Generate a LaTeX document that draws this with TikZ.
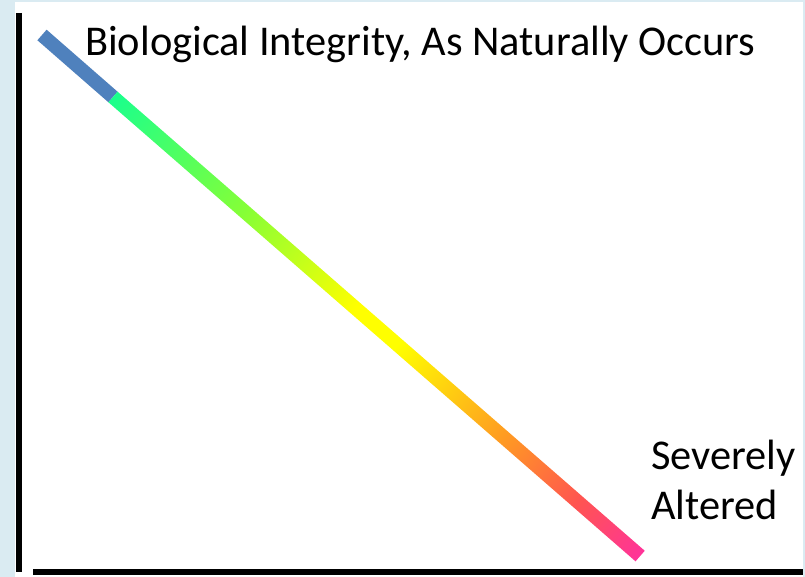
\documentclass[tikz,border=0pt]{standalone}
\usepackage{fontspec}
\setmainfont{Carlito}
\usetikzlibrary{calc}

\definecolor{slidebg}{HTML}{DAEBF2}
\definecolor{natblue}{HTML}{4F81BD}
\definecolor{rampgreen}{HTML}{1AFF8C}
\definecolor{ramplime}{HTML}{86FF36}
\definecolor{rampyellow}{HTML}{FFFF00}
\definecolor{ramporange}{HTML}{FF9B22}
\definecolor{rampred}{HTML}{FF5550}
\definecolor{ramppink}{HTML}{FF3399}

% colour ramp along the line, green at the top end
\pgfdeclarehorizontalshading{integrity}{100bp}{%
  color(0bp)=(rampgreen); color(25bp)=(rampgreen);
  color(37.5bp)=(ramplime); color(48bp)=(rampyellow);
  color(52bp)=(rampyellow);
  color(62bp)=(ramporange); color(69bp)=(rampred);
  color(75bp)=(ramppink); color(100bp)=(ramppink)}

\tikzset{
  axisline/.style={line width=6pt},
  slidetext/.style={inner sep=0pt, font=\fontsize{42.4}{50.5}\selectfont},
}

\begin{document}
\begin{tikzpicture}[x=1pt,y=1pt]
\fill[slidebg] (0,0) rectangle (805,577); %slide edge
\useasboundingbox (0,0) rectangle (805,577);
\fill[white] (15,0) rectangle (803,575);

% axes
\coordinate (ytop) at (18.5,564);
\coordinate (origin) at (18.5,5);
\coordinate (xstart) at (33,5);
\coordinate (xend) at (803,5);
\draw[axisline] (ytop) -- (origin); %yaxis
\draw[axisline] (xstart) -- (xend); %xaxis

% the declining line
\coordinate (natural) at (42,542);
\coordinate (knee) at (113,480);
\coordinate (altered) at (640,21);
\draw[natblue, line width=14pt] (natural) -- (knee);
\begin{scope}[transform canvas={shift={(knee)}, rotate=-41.05}]
\shade[shading=integrity] (0,-7) rectangle (699,7); %ramp, length of knee--altered
\end{scope}

\node[slidetext, anchor=base west] (naturallabel) at (85,521)
  {Biological Integrity, As Naturally Occurs};
\node[slidetext, anchor=base west, align=left] (alteredlabel) at (651,57)
  {Severely\\Altered}; %base is on the last line
\end{tikzpicture}
\end{document}
